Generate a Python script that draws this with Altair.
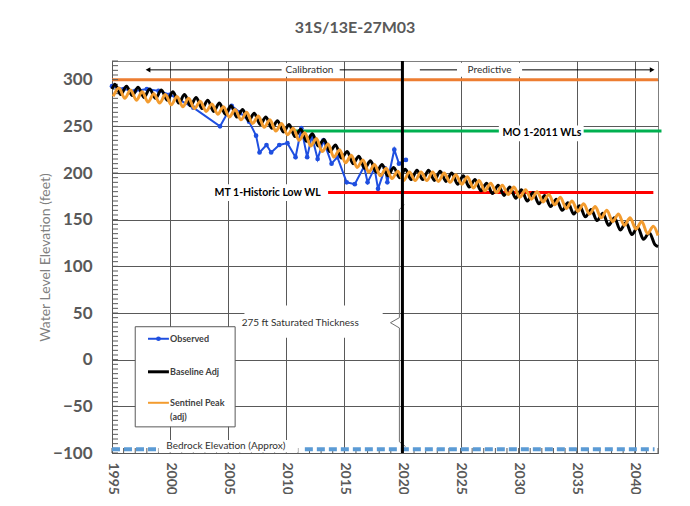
import altair as alt
import pandas as pd

TITLE = "31S/13E-27M03"
W, H = 546, 392
X_DOMAIN = [1995, 2042]
Y_DOMAIN = [-100, 320]
FONT = "Lato"
GRID = "#595959"

x_ticks = list(range(1995, 2041, 5))
y_ticks = list(range(-100, 301, 50))
x_minor = list(range(1995, 2043))
y_minor = list(range(-100, 321, 5))

# Observed water levels
obs_years = [1995.0, 1996.0, 1997.0, 1998.0, 1999.0, 2000.0, 2002.0, 2004.3, 2005.3, 2006.0,
             2006.8, 2007.4, 2007.7, 2008.3, 2008.7, 2009.4, 2010.1, 2010.8, 2011.3, 2011.8,
             2012.2, 2012.7, 2013.2, 2013.9, 2014.4, 2015.2, 2015.9, 2016.7, 2017.0, 2017.6,
             2017.9, 2018.5, 2018.7, 2019.3, 2019.7, 2020.3]
obs_vals = [293, 290, 288, 290, 288, 284, 270, 250, 272, 265,
            255, 240, 222, 230, 222, 230, 232, 217, 248, 217,
            240, 215, 235, 210, 217, 190, 188, 207, 190, 205,
            183, 205, 190, 225, 210, 214]

# Model series: one seasonal high and low per year
model_years = list(range(1995, 2042))
base_peaks = [295, 293, 292, 290, 289, 287, 284, 281, 278, 275,
              272, 268, 264, 260, 256, 252, 247, 242, 236, 230,
              223, 218, 213, 209, 206, 204, 203, 203, 202, 200,
              197, 193, 189, 187, 185, 182, 179, 176, 172, 168,
              165, 161, 157, 152, 147, 142, 136]
base_troughs = [284, 283, 281, 280, 278, 275, 272, 269, 266, 263,
                260, 256, 252, 248, 244, 239, 234, 229, 223, 216,
                210, 205, 201, 197, 195, 193, 193, 192, 191, 188,
                185, 181, 178, 176, 173, 170, 167, 164, 160, 156,
                153, 149, 144, 139, 134, 129, 123]
base_start, base_end = 290, 121
sent_peaks = [291, 289, 287, 285, 284, 282, 280, 277, 274, 271,
              268, 265, 261, 257, 253, 248, 243, 237, 231, 225,
              219, 214, 209, 205, 202, 201, 201, 201, 200, 198,
              196, 192, 189, 187, 185, 182, 180, 177, 174, 170,
              167, 164, 160, 156, 152, 148, 143]
sent_troughs = [282, 280, 278, 276, 275, 273, 271, 269, 266, 263,
                260, 257, 253, 249, 245, 241, 235, 229, 223, 217,
                211, 206, 201, 197, 194, 192, 192, 192, 191, 190,
                188, 184, 181, 179, 177, 174, 172, 169, 166, 162,
                159, 156, 152, 148, 144, 140, 135]
sent_end = 133

# Reference lines
ref_names = ["Sentinel Peak", "MO 1-2011 WLs", "MT 1-Historic Low WL"]
ref_x1 = [1995, 2010.3, 2013.6]
ref_x2 = [2042, 2042.3, 2041.6]
ref_y = [300, 245, 179]
ref_colors = ["#ED7D31", "#00B050", "#FF0000"]

bedrock_level = -96
bedrock_x1 = [1995, 2011.6]
bedrock_x2 = [1998.8, 2041.7]

# ---------------------------------------------------------------- frames
bx, by = [], []
bx.append(1995.0); by.append(base_start)
for yr, p, t in zip(model_years, base_peaks, base_troughs):
    bx += [yr + 0.25, yr + 0.75]
    by += [p, t]
bx.append(2042.0); by.append(base_end)
base_df = pd.DataFrame({"x": bx, "y": by})

sx, sy = [], []
for yr, p, t in zip(model_years, sent_peaks, sent_troughs):
    sx += [yr + 0.1, yr + 0.6]
    sy += [t, p]
sx.append(2042.0); sy.append(sent_end)
sent_df = pd.DataFrame({"x": sx, "y": sy})

obs_df = pd.DataFrame({"x": obs_years, "y": obs_vals})
ref_df = pd.DataFrame({"name": ref_names, "x": ref_x1, "x2": ref_x2, "y": ref_y, "c": ref_colors})
bed_df = pd.DataFrame({"x": bedrock_x1, "x2": bedrock_x2, "y": [bedrock_level] * 2})

xs = alt.Scale(domain=X_DOMAIN, nice=False, zero=False)
ys = alt.Scale(domain=Y_DOMAIN, nice=False, zero=False)

x_axis = alt.Axis(values=x_ticks, format="d", labelAngle=90, labelFont=FONT, labelFontSize=14,
                  labelFontWeight="bold", labelColor="#595959", tickSize=0, labelPadding=9,
                  grid=True, gridColor=GRID, gridWidth=1, domainColor=GRID, title=None,
                  labelFlush=False, labelOverlap=False)
y_axis = alt.Axis(values=y_ticks, labelFont=FONT, labelFontSize=17, labelFontWeight="bold",
                  labelColor="#595959", tickSize=0, labelPadding=20, grid=True, gridColor=GRID,
                  gridWidth=1, domainColor=GRID, title="Water Level Elevation (feet)",
                  titleFont=FONT, titleFontSize=14, titleFontWeight="normal", titleColor="#7f7f7f",
                  titleX=-67, titleY=H / 2, titleAlign="center", titleBaseline="middle",
                  labelOverlap=False)


def X(field="x"):
    return alt.X(f"{field}:Q", scale=xs, axis=x_axis)


def Y(field="y"):
    return alt.Y(f"{field}:Q", scale=ys, axis=y_axis)


# reference lines
refs = alt.Chart(ref_df).mark_rule(strokeWidth=3).encode(
    x=X(), x2="x2:Q", y=Y(), color=alt.Color("c:N", scale=None))

minor_y = alt.Chart(pd.DataFrame({"y": y_minor})).mark_rule(color=GRID, strokeWidth=1).encode(
    y=Y(), x=alt.value(0), x2=alt.value(6))
minor_x = alt.Chart(pd.DataFrame({"x": x_minor})).mark_rule(color=GRID, strokeWidth=1).encode(
    x=X(), y=alt.value(H), y2=alt.value(H - 5))

bedrock = alt.Chart(bed_df).mark_rule(color="#5B9BD5", strokeWidth=4, strokeDash=[8, 4]).encode(
    x=X(), x2="x2:Q", y=Y())

# white boxes behind annotation texts
box_x1 = [2009.6, 2024.7, 2028.3, 2003.2, 2006.4, 1999.0]
box_x2 = [2014.6, 2030.3, 2035.6, 2013.5, 2018.3, 2011.0]
box_y1 = [318, 318, 251, 188, 58, -86]
box_y2 = [303, 303, 234, 170, 23.5, -99.5]
boxes = alt.Chart(pd.DataFrame({"x": box_x1, "x2": box_x2, "y": box_y1, "y2": box_y2})).mark_rect(
    fill="white").encode(x=X(), x2="x2:Q", y=Y(), y2="y2:Q")

# calibration / predictive arrows
arr_x1 = [1998.1, 2014.6, 2021.5, 2030.3]
arr_x2 = [2009.6, 2020.0, 2024.7, 2041.5]
arr_y = 310.5
arrows = alt.Chart(pd.DataFrame({"x": arr_x1, "x2": arr_x2, "y": [arr_y] * 4})).mark_rule(
    color="black", strokeWidth=1).encode(x=X(), x2="x2:Q", y=Y())
heads = alt.Chart(pd.DataFrame({"x": [1998.1, 2041.5], "y": [arr_y] * 2,
                                "s": ["triangle-left", "triangle-right"]})).mark_point(
    filled=True, color="black", size=30, opacity=1).encode(
    x=X(), y=Y(), shape=alt.Shape("s:N", scale=None))

# texts
norm_txt = pd.DataFrame({
    "t": ["Calibration", "Predictive", "275  ft Saturated Thickness", "Bedrock Elevation (Approx)"],
    "x": [2012.0, 2027.5, 2011.2, 2004.8],
    "y": [arr_y, arr_y, 39.6, -93.0],
})
texts_norm = alt.Chart(norm_txt).mark_text(font=FONT, fontSize=10, color="#303030",
                                           baseline="middle", align="center").encode(
    x=X(), y=Y(), text="t:N")
bold_txt = pd.DataFrame({
    "t": ["MO 1-2011  WLs", "MT 1-Historic Low WL"],
    "x": [2032.0, 2008.4],
    "y": [243, 179],
})
texts_bold = alt.Chart(bold_txt).mark_text(font=FONT, fontSize=10.5, fontWeight="bold",
                                           color="black", baseline="middle", align="center").encode(
    x=X(), y=Y(), text="t:N")

# brace for saturated thickness
brace_df = pd.DataFrame({"x": [2020.17, 2019.74, 2019.74, 2018.97, 2019.74, 2019.74, 2020.26],
                         "y": [166, 161, 45, 39.6, 34, -88, -93],
                         "o": list(range(7))})
brace = alt.Chart(brace_df).mark_line(color="#707070", strokeWidth=1).encode(
    x=X(), y=Y(), order="o:Q")

# data series
observed = alt.Chart(obs_df).mark_line(color="#1F4FE0", strokeWidth=2,
                                       point=alt.OverlayMarkDef(filled=True, size=22, color="#1F4FE0")).encode(
    x=X(), y=Y())
baseline = alt.Chart(base_df).mark_line(color="black", strokeWidth=3, interpolate="monotone").encode(
    x=X(), y=Y())
sentinel = alt.Chart(sent_df).mark_line(color="#F39C2F", strokeWidth=3, interpolate="monotone").encode(
    x=X(), y=Y())

vline = alt.Chart(pd.DataFrame({"x": [2020.0], "y": [Y_DOMAIN[0]], "y2": [Y_DOMAIN[1]]})).mark_rule(
    color="black", strokeWidth=3).encode(x=X(), y=Y(), y2="y2:Q")

# legend
leg_box = alt.Chart(pd.DataFrame({"x": [1997.0], "x2": [2005.6], "y": [35.3], "y2": [-72.0]})).mark_rect(
    fill="white", stroke="#595959", strokeWidth=1).encode(x=X(), x2="x2:Q", y=Y(), y2="y2:Q")
leg_labels = ["Observed", "Baseline Adj", "Sentinel Peak"]
leg_y = [22.4, -13.0, -46.2]
leg_colors = ["#1F4FE0", "black", "#F39C2F"]
leg_widths = [2, 3, 2]
leg_df = pd.DataFrame({"t": leg_labels, "y": leg_y, "c": leg_colors, "w": leg_widths,
                       "x": [1998.1] * 3, "x2": [1999.9] * 3})
leg_lines = alt.Chart(leg_df).mark_rule().encode(
    x=X(), x2="x2:Q", y=Y(), color=alt.Color("c:N", scale=None),
    strokeWidth=alt.StrokeWidth("w:Q", scale=None))
leg_pt = alt.Chart(pd.DataFrame({"x": [1999.0], "y": [22.4]})).mark_point(
    filled=True, color="#1F4FE0", size=22, opacity=1).encode(x=X(), y=Y())
leg_txt_df = pd.DataFrame({"t": leg_labels + ["(adj)"], "x": [2000.0] * 4,
                           "y": leg_y + [-61.2]})
leg_text = alt.Chart(leg_txt_df).mark_text(font=FONT, fontSize=9, fontWeight="bold",
                                           color="#404040", align="left", baseline="middle").encode(
    x=X(), y=Y(), text="t:N")

chart = alt.layer(
    refs, minor_y, minor_x, bedrock, boxes, arrows, heads, texts_norm, texts_bold, brace,
    observed, baseline, sentinel, vline, leg_box, leg_lines, leg_pt, leg_text,
).properties(
    width=W, height=H,
    padding={"left": 104, "top": 53, "right": 24, "bottom": 41},
    autosize=alt.AutoSizeParams(type="none"),
    title=alt.TitleParams(TITLE, font=FONT, fontSize=16, fontWeight="bold", color="#595959",
                          dx=-30, offset=24, anchor="middle"),
).configure_view(stroke="#7f7f7f", strokeWidth=1)

chart.save("out.html", embed_options={"renderer": "svg", "actions": False})
